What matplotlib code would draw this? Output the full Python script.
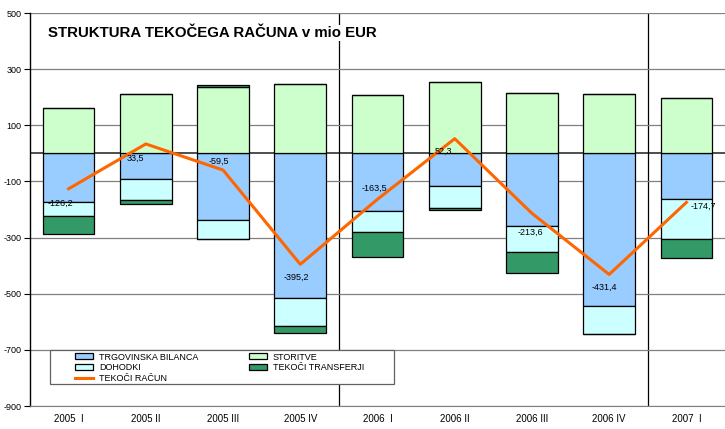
import numpy as np
import matplotlib.pyplot as plt
from matplotlib.patches import Rectangle

plt.rcParams['font.family'] = ['Liberation Sans', 'DejaVu Sans']
plt.rcParams['axes.unicode_minus'] = False

# data (mio EUR)
quarters = ['2005  I', '2005 II', '2005 III', '2005 IV', '2006  I',
            '2006 II', '2006 III', '2006 IV', '2007  I']
trade = [-174, -93, -239, -517, -204, -118, -257, -542, -164]
services = [163, 213, 235, 246, 208, 254, 215, 211, 198]
income = [-50, -72, -65, -97, -77, -77, -94, -102, -141]
transfers = [-65, -15, 10, -26, -89, -7, -75, 2, -66]
current = [-126.2, 33.5, -59.5, -395.2, -163.5, 52.3, -213.6, -431.4, -174.7]

# label offsets in pixels (dx, dy)
lab_off = [(-8, -15), (-10, -14), (-4, 9), (-4, -13), (-3, 11),
           (-11, -13), (-2, -19), (-5, -13), (17, -4)]

c_trade = '#99ccff'
c_serv = '#ccffcc'
c_inc = '#ccffff'
c_trans = '#339966'
c_line = '#ff6600'

fig = plt.figure(figsize=(7.25, 4.29), dpi=100)
ax = fig.add_axes([30/725, 23/429, 695/725, 393/429])

x = np.arange(len(quarters))
w = 0.67
ek = dict(edgecolor='black', linewidth=0.9, zorder=3)

trade = np.array(trade)
services = np.array(services)
income = np.array(income)
transfers = np.array(transfers)

tr_pos = np.where(transfers > 0, transfers, 0)
tr_neg = np.where(transfers < 0, transfers, 0)

b1 = ax.bar(x, trade, w, color=c_trade, label='TRGOVINSKA BILANCA', **ek)
b2 = ax.bar(x, services, w, color=c_serv, label='STORITVE', **ek)
b3 = ax.bar(x, income, w, bottom=trade, color=c_inc, label='DOHODKI', **ek)
b4 = ax.bar(x, tr_neg, w, bottom=trade + income, color=c_trans,
            label='TEKOČI TRANSFERJI', **ek)
ax.bar(x, tr_pos, w, bottom=services, color=c_trans, **ek)

ln, = ax.plot(x, current, color=c_line, lw=2.2, zorder=5, label='TEKOČI RAČUN')

for i, v in enumerate(current):
    ax.annotate(f'{v:.1f}'.replace('.', ','), (x[i], v),
                xytext=lab_off[i], textcoords='offset pixels',
                ha='center', va='center', fontsize=6.5, zorder=6)

ax.set_xlim(-0.5, len(quarters) - 0.5)
ax.set_ylim(-900, 500)
ax.set_yticks(np.arange(-900, 501, 200))
ax.set_xticks(x)
ax.set_xticklabels(quarters, fontsize=7)
ax.tick_params(axis='y', labelsize=6.5, length=4, direction='out', pad=2)
ax.tick_params(axis='x', length=0, pad=6)
ax.grid(axis='y', color='#808080', lw=0.9, zorder=0)
ax.axhline(0, color='#303030', lw=1.2, zorder=1)
for xv in [3.5, 7.5]:
    ax.axvline(xv, color='black', lw=0.9, zorder=1)

for s in ['top', 'right']:
    ax.spines[s].set_visible(False)
ax.spines['bottom'].set_color('#808080')
ax.spines['left'].set_linewidth(1.0)

fig.text(48/725, 1 - 33/429, 'STRUKTURA TEKOČEGA RAČUNA v mio EUR',
         fontsize=10.8, fontweight='bold', va='center', ha='left',
         bbox=dict(facecolor='white', edgecolor='none', pad=1))

# legend frame
fig.add_artist(Rectangle((50/725, 1 - 384/429), 344/725, 34/429,
                         transform=fig.transFigure, facecolor='white',
                         edgecolor='#606060', lw=0.9, zorder=4))
leg = fig.legend(handles=[b1, b3, ln, b2, b4], ncol=2, loc='upper left',
                 bbox_to_anchor=(75/725, 1 - 352.5/429),
                 fontsize=6.5, frameon=False, borderpad=0,
                 labelspacing=0.2, handlelength=2.0, handleheight=0.65,
                 handletextpad=0.65, columnspacing=5.6, borderaxespad=0)
leg.set_zorder(5)

fig.savefig('out.png', dpi=100)
